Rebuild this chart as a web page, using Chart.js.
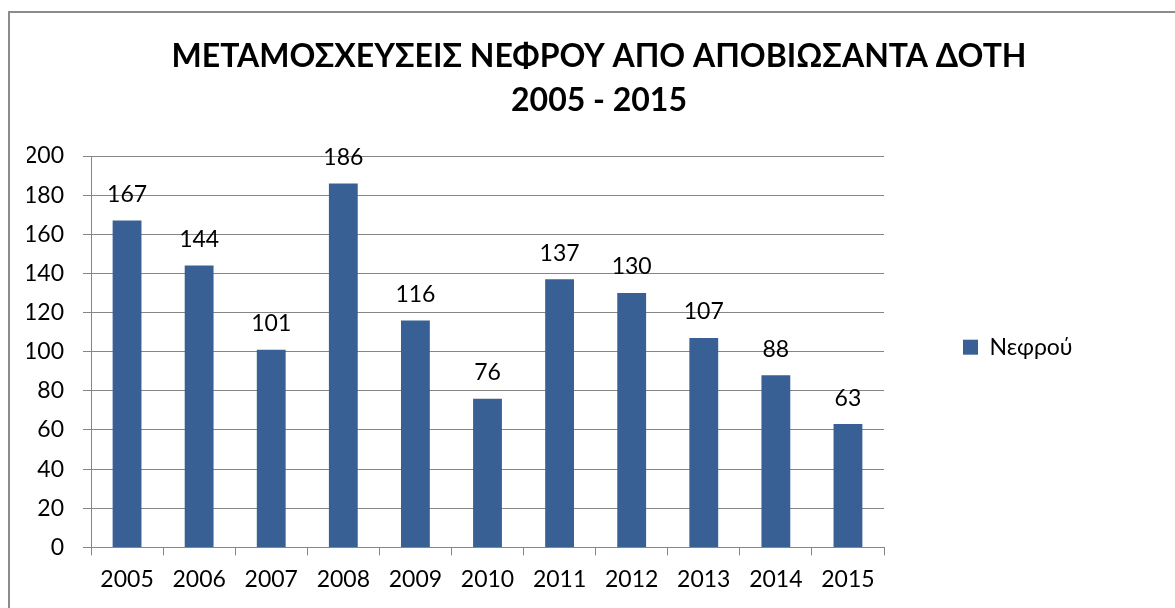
<!DOCTYPE html>
<html>
<head>
<meta charset="utf-8">
<script src="https://cdn.jsdelivr.net/npm/chart.js@4"></script>
<style>
  body { margin: 0; background: #fff; }
  #wrap { position: relative; width: 1175px; height: 608px; overflow: hidden; }
  #frame { position: absolute; left: 8px; top: 11px; width: 1250px; height: 700px; border: 2px solid #8c8c8c; }
  canvas { position: absolute; left: 0; top: 0; }
</style>
</head>
<body>
<div id="wrap">
  <div id="frame"></div>
  <canvas id="kidneyChart" width="1175" height="608"></canvas>
</div>
<script>
const years = ['2005', '2006', '2007', '2008', '2009', '2010', '2011', '2012', '2013', '2014', '2015'];
const kidneys = [167, 144, 101, 186, 116, 76, 137, 130, 107, 88, 63];
const titleLines = ['ΜΕΤΑΜΟΣΧΕΥΣΕΙΣ ΝΕΦΡΟΥ ΑΠΟ ΑΠΟΒΙΩΣΑΝΤΑ ΔΟΤΗ', '2005 - 2015'];
const seriesName = 'Νεφρού';

const fontFamily = 'Lato, "Open Sans", sans-serif';
const padLeft = 27;
const padRight = 4;
const plotRight = 884;
const yAxisWidth = 64;

// value labels above each bar
const valueLabels = {
    id: 'valueLabels',
    afterDatasetsDraw(chart) {
        const ctx = chart.ctx;
        const meta = chart.getDatasetMeta(0);
        ctx.save();
        ctx.font = '23px ' + fontFamily;
        ctx.fillStyle = '#000';
        ctx.textAlign = 'center';
        ctx.textBaseline = 'middle';
        meta.data.forEach(function(bar, i) {
            ctx.fillText(String(kidneys[i]), bar.x, bar.y - 26);
        });
        ctx.restore();
    }
};

// widen the legend box so the plot ends where it does in the original
const legendWidth = {
    id: 'legendWidth',
    beforeLayout(chart) {
        const lg = chart.legend;
        if (lg && !lg._wideFit) {
            const fit = lg.fit;
            lg.fit = function() {
                fit.call(this);
                this.width = chart.width - padRight - plotRight;
            };
            lg._wideFit = true;
        }
    }
};

document.addEventListener("DOMContentLoaded", function() {
    const ctx = document.getElementById("kidneyChart").getContext("2d");

    new Chart(ctx, {
        type: 'bar',
        data: {
            labels: years,
            datasets: [{
                label: seriesName,
                data: kidneys,
                backgroundColor: '#386094',
                barPercentage: 0.4,
                categoryPercentage: 1.0
            }]
        },
        options: {
            responsive: false,
            animation: false,
            layout: { padding: { left: padLeft, right: padRight, top: 35, bottom: 5 } },
            plugins: {
                title: {
                    display: true,
                    text: titleLines,
                    color: '#000',
                    font: { family: fontFamily, size: 32, weight: 'bold', lineHeight: 1.375 },
                    padding: { top: 0, bottom: 33 }
                },
                legend: {
                    position: 'right',
                    title: {
                        display: true,
                        text: '',
                        font: { family: fontFamily, size: 12, lineHeight: 1.2 },
                        padding: { top: 0, bottom: 42 }
                    },
                    labels: {
                        color: '#000',
                        font: { family: fontFamily, size: 23 },
                        boxWidth: 15,
                        boxHeight: 15,
                        padding: 79
                    }
                },
                tooltip: { enabled: false }
            },
            scales: {
                x: {
                    offset: true,
                    grid: {
                        offset: true,
                        drawOnChartArea: false,
                        drawTicks: true,
                        tickLength: 8,
                        color: '#868686'
                    },
                    border: { color: '#868686' },
                    ticks: {
                        color: '#000',
                        font: { family: fontFamily, size: 23 },
                        padding: 10
                    }
                },
                y: {
                    min: 0,
                    max: 200,
                    afterFit(scale) {
                        scale.width = yAxisWidth;
                    },
                    ticks: {
                        stepSize: 20,
                        color: '#000',
                        font: { family: fontFamily, size: 23 },
                        padding: 19
                    },
                    grid: {
                        color: '#868686',
                        tickLength: 8
                    },
                    border: { color: '#868686' }
                }
            }
        },
        plugins: [valueLabels, legendWidth]
    });
});
</script>
</body>
</html>
